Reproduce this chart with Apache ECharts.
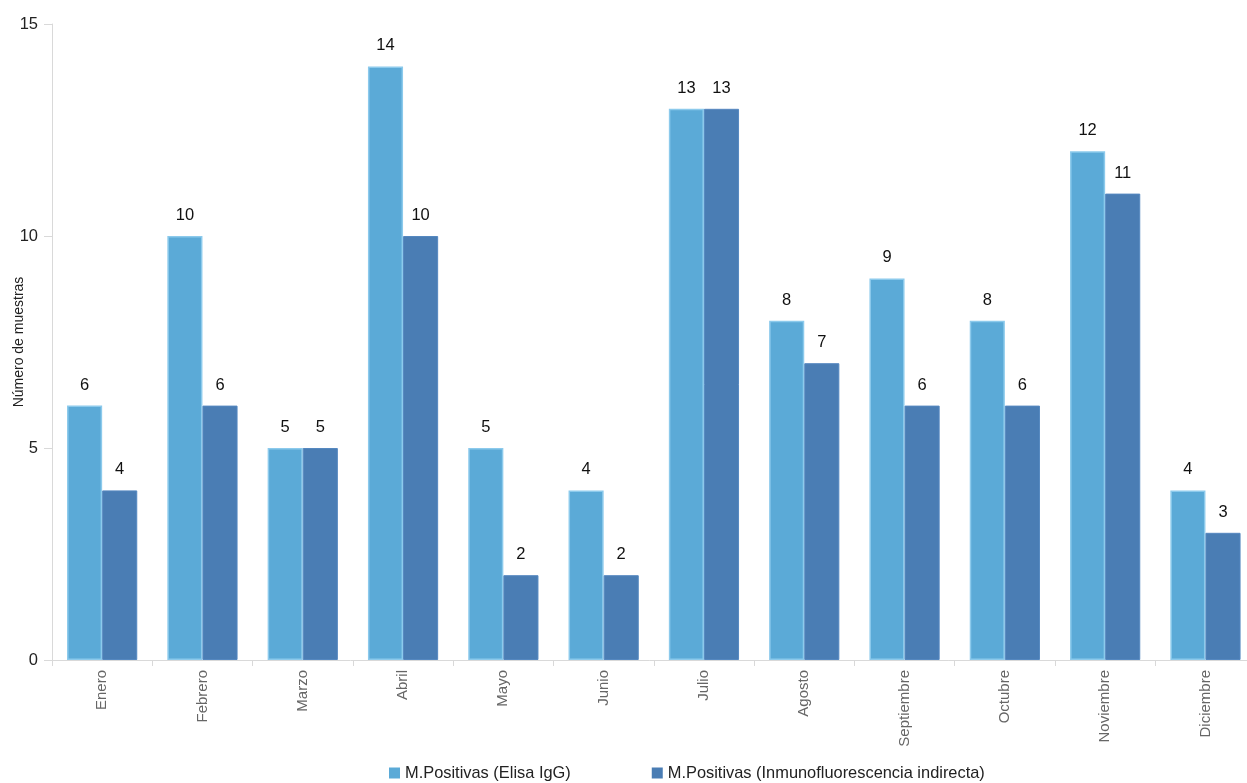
<!DOCTYPE html>
<html><head><meta charset="utf-8">
<script src="https://cdn.jsdelivr.net/npm/echarts@6/dist/echarts.min.js"></script>
<style>html,body{margin:0;padding:0;background:#fff}#c{width:1247px;height:783px}</style>
</head><body><div id="c"></div>
<script>
const categories = ['Enero','Febrero','Marzo','Abril','Mayo','Junio','Julio','Agosto','Septiembre','Octubre','Noviembre','Diciembre'];
const elisa = [6,10,5,14,5,4,13,8,9,8,12,4];
const ifi = [4,6,5,10,2,2,13,7,6,6,11,3];
const seriesNames = ['M.Positivas (Elisa IgG)','M.Positivas (Inmunofluorescencia indirecta)'];
const yTicks = [0,5,10,15];
const FONT = 'Liberation Sans';
const NARROW = "'Liberation Sans Narrow', 'Arial Narrow', 'Liberation Sans'";
const chart = echarts.init(document.getElementById('c'));
chart.setOption({
  animation:false,
  textStyle:{fontFamily:FONT},
  legend:{
    bottom:2, left:389, itemWidth:11, itemHeight:11, itemGap:81, icon:'rect',
    itemStyle:{borderWidth:0},
    textStyle:{fontSize:16.4, color:'#222', fontFamily:FONT}, padding:[0,0,0,0],
    data:seriesNames
  },
  grid:{left:52, right:-8.6, top:24, bottom:123, containLabel:false, outerBoundsMode:'none'},
  xAxis:{
    type:'category', data:categories,
    axisLine:{lineStyle:{color:'#d9d9d9'}},
    axisTick:{show:true, length:6, lineStyle:{color:'#d9d9d9'}},
    axisLabel:{rotate:90, color:'#666', fontSize:15, fontFamily:FONT, margin:10}
  },
  yAxis:{
    type:'value', min:0, max:15, interval:5,
    name:'Número de muestras', nameLocation:'middle', nameGap:26, nameMoveOverlap:false,
    nameTextStyle:{color:'#222', fontSize:14, fontFamily:FONT},
    axisLine:{show:true, lineStyle:{color:'#d9d9d9'}},
    axisTick:{show:true, length:8, lineStyle:{color:'#d9d9d9'}},
    splitLine:{show:false},
    axisLabel:{color:'#222', fontSize:16.5, fontFamily:NARROW, margin:14,
      formatter:v=>yTicks.includes(v)?String(v):''}
  },
  series:[
    {name:seriesNames[0], type:'bar', data:elisa, barGap:'0%', barCategoryGap:'30%',
     itemStyle:{color:'#5BAAD7', borderColor:'#8CCAEC', borderWidth:1.5},
     label:{show:true, position:'top', distance:12, color:'#111', fontSize:16.5, fontFamily:NARROW}},
    {name:seriesNames[1], type:'bar', data:ifi,
     itemStyle:{color:'#4A7DB4', borderColor:'#5588C0', borderWidth:1},
     label:{show:true, position:'top', distance:12, color:'#111', fontSize:16.5, fontFamily:NARROW}}
  ]
});
</script></body></html>
